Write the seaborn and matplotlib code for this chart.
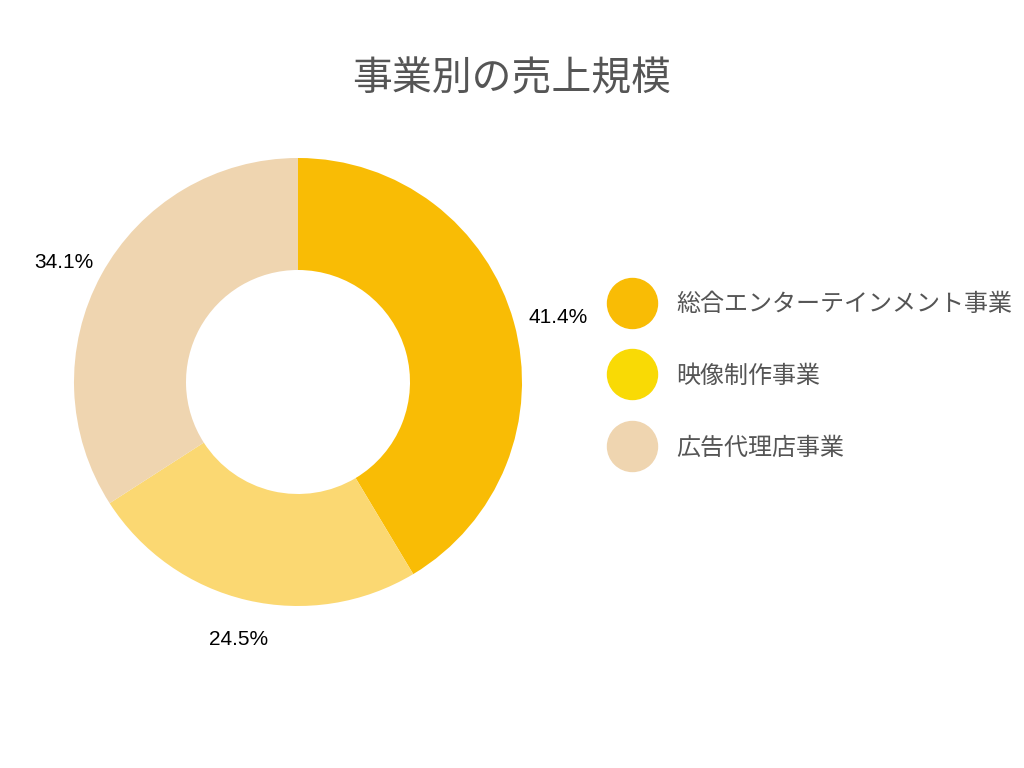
import matplotlib
matplotlib.use("Agg")
import matplotlib.pyplot as plt
from matplotlib.lines import Line2D
import numpy as np
import seaborn as sns

categories = ["総合エンターテインメント事業", "映像制作事業", "広告代理店事業"]
values = [41.4, 24.5, 34.1]
slice_colors = ["#F9BC05", "#FBD872", "#EFD5B0"]
legend_colors = ["#F9BC05", "#F9DA05", "#EFD5B0"]
title = "事業別の売上規模"

sns.set_theme(style="white")
plt.rcParams['font.family'] = ['Noto Sans CJK JP', 'DejaVu Sans']

fig = plt.figure(figsize=(10.24, 7.68), dpi=100)
ax = fig.add_axes([74 / 1024, (768 - 606) / 768, 448 / 1024, 448 / 768])

wedges, texts, autotexts = ax.pie(
    values, colors=slice_colors, startangle=90, counterclock=False,
    autopct="%1.1f%%", pctdistance=1.17, radius=1.0,
    wedgeprops=dict(width=0.5, linewidth=0),
    textprops=dict(fontsize=15, color="black", family=["Liberation Sans", "DejaVu Sans"]),
)
for w, t in zip(wedges, autotexts):
    ang = np.deg2rad((w.theta1 + w.theta2) / 2)
    t.set_position((1.196 * np.cos(ang) + 1.5 / 224, 1.156 * np.sin(ang) - 5 / 224))
ax.set_xlim(-1, 1)
ax.set_ylim(-1, 1)
ax.set_aspect("equal")
ax.axis("off")

fig.text(0.5, 1 - 79 / 768, title, ha="center", va="center", fontsize=28.7, color="#555555")

handles = [Line2D([0], [0], marker="o", linestyle="", markersize=36,
                  markerfacecolor=c, markeredgecolor=c) for c in legend_colors]
leg = fig.legend(handles, categories, loc="upper left",
                 bbox_to_anchor=(602 / 1024, 1 - 279 / 768),
                 frameon=False, fontsize=17.3, labelspacing=1.91,
                 handletextpad=1.1, handlelength=1.5, borderpad=0)
for t in leg.get_texts():
    t.set_color("#555555")

fig.savefig("out.png", dpi=100)
